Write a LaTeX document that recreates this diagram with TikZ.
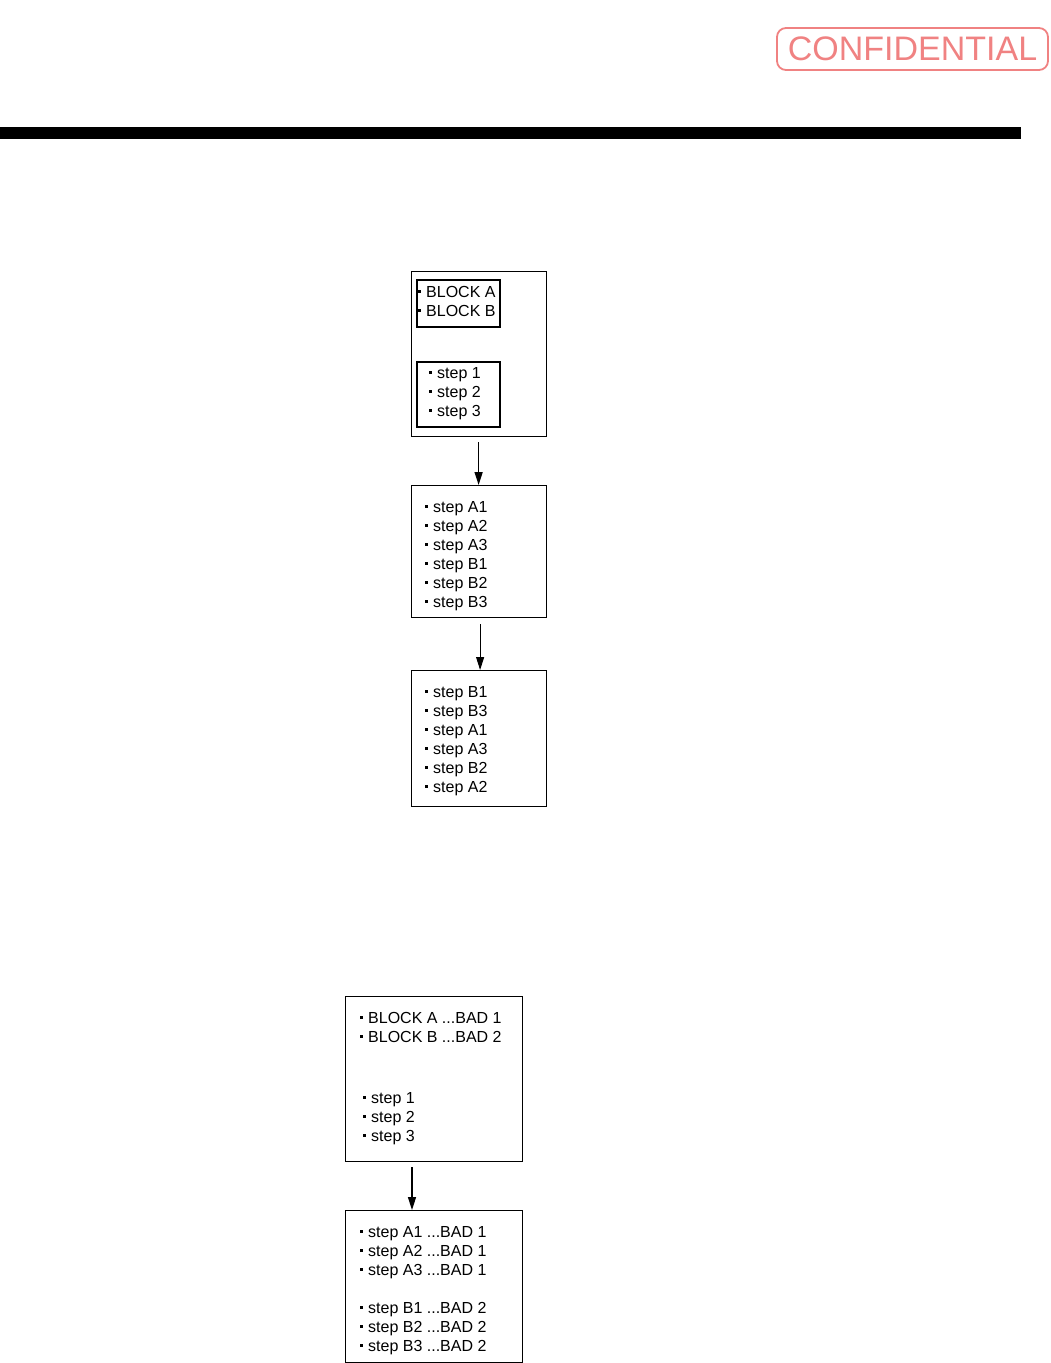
\documentclass[tikz,border=0pt]{standalone}
\usepackage{fontspec}
\setmainfont{Liberation Sans}
\usetikzlibrary{arrows.meta,positioning}
\definecolor{stampred}{RGB}{240,130,130}
\newcommand{\bul}{\rule[4.5pt]{3pt}{3pt}\hspace{5pt}}

\begin{document}
\begin{tikzpicture}[x=1pt,y=-1pt,
  box/.style={draw,line width=1.2pt,anchor=north west,inner sep=0pt},
  inbox/.style={draw,line width=1.8pt,anchor=north west,inner sep=0pt},
  item/.style={anchor=base west,inner sep=0pt,font=\fontsize{16}{19}\selectfont},
  flow/.style={draw,line width=1.5pt,-{Triangle[length=13pt,width=8pt]}},
  stamp/.style={draw=stampred,text=stampred,line width=1.8pt,rounded corners=9pt,
    minimum width=271pt,minimum height=42pt,inner sep=0pt,font=\fontsize{34}{36}\selectfont}
]
  \useasboundingbox (0,0) rectangle (1050,1363);
  \node[stamp] (conf) at (912.5,49) {CONFIDENTIAL};
  \fill (0,127) rectangle (1021,139);

  % upper flow
  \node[box,minimum width=135pt,minimum height=165pt] (b1) at (411,271) {};
  \node[inbox,minimum width=83pt,minimum height=47pt] (blk) at (416,279) {};
  \node[inbox,minimum width=83pt,minimum height=65pt] (stp) at (416,361) {};
  \node[item] (ba) at (418,297) {\bul BLOCK A};
  \node[item] (bb) at (418,316) {\bul BLOCK B};
  \foreach \s [count=\i from 0] in {1,2,3}
    \node[item] (s\i) at (429,378+19*\i) {\bul step \s};

  \node[box,minimum width=135pt,minimum height=132pt] (b2) at (411,485) {};
  \foreach \s [count=\i from 0] in {A1,A2,A3,B1,B2,B3}
    \node[item] (m\i) at (425,512+19*\i) {\bul step \s};

  \node[box,minimum width=135pt,minimum height=136pt] (b3) at (411,670) {};
  \foreach \s [count=\i from 0] in {B1,B3,A1,A3,B2,A2}
    \node[item] (r\i) at (425,697+19*\i) {\bul step \s};

  \draw[flow,shorten <=5pt] ([xshift=-0.5pt]b1.south) -- ([xshift=-0.5pt]b2.north);
  \draw[flow,line width=1pt,shorten <=6pt] ([xshift=1pt]b2.south) -- ([xshift=1pt]b3.north);

  % lower flow
  \node[box,minimum width=177pt,minimum height=165pt] (b4) at (345,996) {};
  \node[item] (ka) at (360,1023) {\bul BLOCK A ...BAD 1};
  \node[item] (kb) at (360,1042) {\bul BLOCK B ...BAD 2};
  \foreach \s [count=\i from 0] in {1,2,3}
    \node[item] (t\i) at (363,1103+19*\i) {\bul step \s};

  \node[box,minimum width=177pt,minimum height=152pt] (b5) at (345,1210) {};
  \foreach \s/\b/\y [count=\i] in {A1/1/1237,A2/1/1256,A3/1/1275,
      B1/2/1313,B2/2/1332,B3/2/1351}
    \node[item] (u\i) at (360,\y) {\bul step \s\ ...BAD \b};

  \draw[flow,shorten <=5pt] ([xshift=67pt]b4.south west) -- ([xshift=67pt]b5.north west);
\end{tikzpicture}
\end{document}
